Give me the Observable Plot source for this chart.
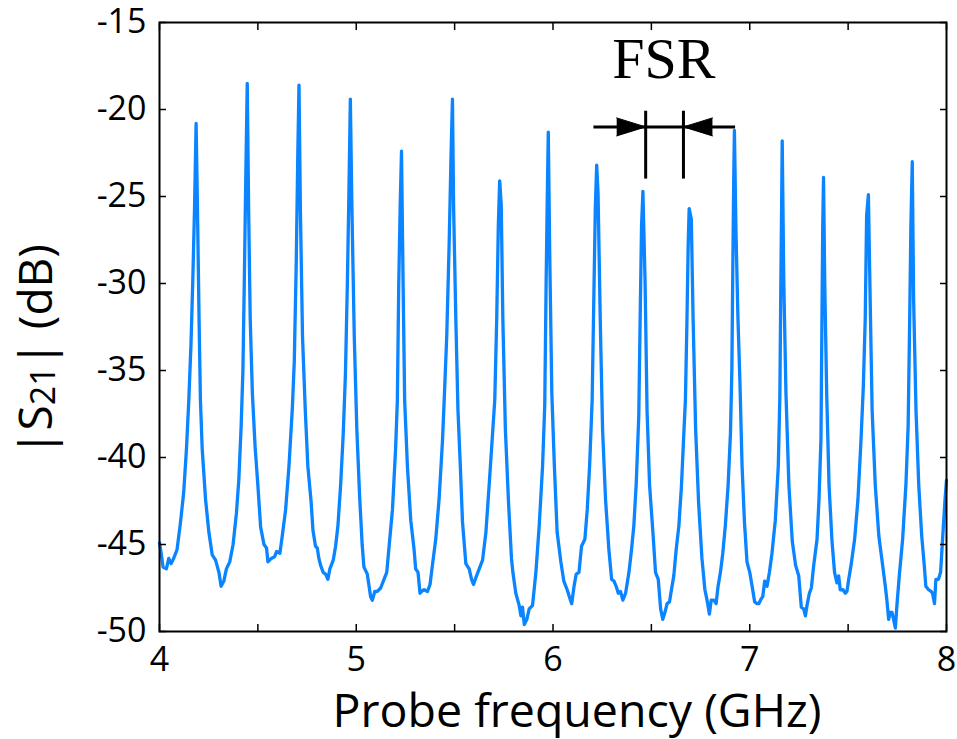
<!DOCTYPE html>
<html>
<head>
<meta charset="utf-8">
<script src="https://cdn.jsdelivr.net/npm/d3@7"></script>
<script src="https://cdn.jsdelivr.net/npm/@observablehq/plot@0.6"></script>
<style>
  html, body { margin: 0; padding: 0; background: #fff; }
  #chart { width: 957px; height: 739px; }
</style>
</head>
<body>
<div id="chart"></div>
<script>
const trace = [
  [4.000,-44.9],[4.010,-45.6],[4.018,-46.3],[4.035,-46.4],[4.047,-45.8],[4.059,-46.1],[4.072,-45.8],
  [4.089,-45.3],[4.106,-43.8],[4.123,-42.0],[4.137,-39.5],[4.149,-36.7],[4.160,-33.5],[4.169,-29.9],
  [4.178,-25.7],[4.186,-20.8],[4.193,-25.7],[4.201,-32.0],[4.208,-36.7],[4.217,-39.5],[4.234,-42.4],
  [4.251,-44.3],[4.268,-45.6],[4.285,-45.9],[4.302,-46.6],[4.313,-47.4],[4.327,-47.1],[4.340,-46.4],
  [4.357,-46.0],[4.374,-45.0],[4.391,-43.2],[4.403,-41.3],[4.415,-38.2],[4.424,-35.0],[4.431,-29.9],
  [4.439,-23.5],[4.446,-18.5],[4.453,-25.7],[4.461,-32.0],[4.472,-36.3],[4.486,-39.4],[4.500,-41.6],
  [4.514,-44.0],[4.531,-45.0],[4.544,-45.2],[4.551,-46.0],[4.568,-45.8],[4.585,-45.7],[4.595,-45.4],
  [4.612,-45.5],[4.624,-44.5],[4.641,-43.0],[4.658,-40.5],[4.675,-37.2],[4.685,-34.5],[4.695,-28.8],
  [4.703,-22.5],[4.709,-18.6],[4.716,-25.7],[4.727,-33.1],[4.741,-37.3],[4.754,-40.5],[4.771,-42.6],
  [4.780,-44.2],[4.793,-45.1],[4.802,-45.2],[4.810,-45.8],[4.819,-46.2],[4.832,-46.6],[4.844,-46.7],
  [4.856,-47.0],[4.866,-46.4],[4.883,-45.9],[4.895,-45.1],[4.907,-43.9],[4.921,-41.5],[4.934,-38.6],
  [4.945,-35.2],[4.955,-29.9],[4.963,-24.6],[4.970,-19.4],[4.978,-25.7],[4.990,-33.1],[5.003,-38.4],
  [5.017,-42.2],[5.030,-45.0],[5.039,-46.3],[5.056,-46.7],[5.073,-48.0],[5.082,-48.2],[5.094,-47.7],
  [5.107,-47.7],[5.124,-47.5],[5.141,-47.0],[5.155,-46.6],[5.167,-45.1],[5.184,-43.0],[5.200,-39.5],
  [5.209,-36.7],[5.216,-30.0],[5.223,-25.7],[5.230,-22.4],[5.238,-29.9],[5.246,-36.7],[5.260,-40.5],
  [5.277,-43.6],[5.294,-45.3],[5.302,-46.4],[5.314,-46.6],[5.324,-47.8],[5.331,-47.7],[5.345,-47.6],
  [5.362,-47.7],[5.375,-47.3],[5.387,-46.2],[5.404,-44.7],[5.421,-42.4],[5.438,-39.1],[5.447,-36.7],
  [5.460,-33.0],[5.472,-27.8],[5.482,-22.5],[5.489,-19.4],[5.495,-25.7],[5.506,-32.0],[5.517,-37.3],
  [5.529,-40.5],[5.540,-43.7],[5.557,-46.1],[5.574,-46.4],[5.586,-47.0],[5.596,-47.3],[5.608,-46.9],
  [5.625,-46.4],[5.642,-45.9],[5.659,-44.3],[5.676,-41.5],[5.693,-38.6],[5.704,-36.7],[5.714,-32.0],
  [5.722,-26.7],[5.729,-24.1],[5.737,-25.5],[5.745,-32.0],[5.758,-38.4],[5.774,-42.6],[5.789,-45.8],
  [5.796,-46.6],[5.811,-47.8],[5.828,-48.5],[5.837,-49.1],[5.845,-48.6],[5.854,-49.6],[5.867,-49.3],
  [5.879,-48.7],[5.896,-48.5],[5.913,-46.6],[5.930,-43.9],[5.947,-40.5],[5.958,-37.0],[5.965,-30.0],
  [5.971,-25.0],[5.976,-21.3],[5.984,-28.8],[5.994,-36.3],[6.007,-40.5],[6.021,-44.3],[6.040,-46.0],
  [6.055,-47.1],[6.072,-47.6],[6.086,-48.1],[6.095,-48.4],[6.107,-47.4],[6.118,-46.7],[6.132,-46.6],
  [6.145,-45.1],[6.162,-44.7],[6.174,-43.0],[6.186,-40.5],[6.199,-36.7],[6.208,-30.5],[6.215,-25.7],
  [6.222,-23.2],[6.229,-24.8],[6.240,-32.0],[6.252,-38.4],[6.267,-42.4],[6.284,-45.3],[6.298,-47.0],
  [6.310,-47.1],[6.321,-47.4],[6.332,-47.8],[6.343,-47.7],[6.355,-48.2],[6.369,-47.8],[6.386,-46.6],
  [6.399,-45.3],[6.411,-43.9],[6.423,-41.5],[6.436,-37.6],[6.443,-32.0],[6.450,-26.7],[6.457,-24.7],
  [6.468,-29.9],[6.478,-37.3],[6.491,-41.6],[6.509,-44.5],[6.521,-46.6],[6.535,-47.0],[6.547,-48.7],
  [6.558,-49.3],[6.569,-48.9],[6.580,-48.4],[6.592,-48.3],[6.602,-47.6],[6.614,-46.8],[6.626,-45.3],
  [6.640,-43.9],[6.653,-41.6],[6.665,-38.6],[6.673,-36.7],[6.681,-32.0],[6.687,-27.8],[6.692,-25.7],
  [6.703,-26.3],[6.712,-32.0],[6.725,-38.4],[6.740,-42.6],[6.757,-45.8],[6.772,-47.6],[6.783,-48.2],
  [6.795,-49.0],[6.804,-48.2],[6.817,-48.2],[6.829,-48.4],[6.839,-47.4],[6.851,-46.6],[6.863,-45.5],
  [6.876,-43.9],[6.890,-41.6],[6.902,-38.6],[6.909,-35.0],[6.914,-29.0],[6.918,-24.5],[6.922,-21.2],
  [6.930,-27.0],[6.940,-32.0],[6.950,-35.6],[6.961,-40.5],[6.973,-43.7],[6.986,-46.0],[7.000,-46.6],
  [7.012,-47.4],[7.025,-48.3],[7.037,-48.4],[7.046,-48.4],[7.059,-48.1],[7.066,-48.0],[7.076,-47.1],
  [7.088,-47.4],[7.100,-46.6],[7.113,-45.5],[7.130,-43.6],[7.145,-40.5],[7.153,-36.5],[7.158,-30.0],
  [7.162,-25.5],[7.165,-21.8],[7.173,-29.9],[7.184,-36.3],[7.199,-41.6],[7.216,-44.8],[7.233,-46.2],
  [7.249,-46.8],[7.262,-48.6],[7.274,-48.7],[7.283,-49.1],[7.291,-48.5],[7.303,-47.8],[7.313,-47.5],
  [7.325,-46.2],[7.342,-44.7],[7.352,-42.4],[7.362,-38.9],[7.367,-32.0],[7.371,-26.7],[7.375,-23.9],
  [7.381,-29.9],[7.391,-36.3],[7.403,-41.6],[7.418,-44.8],[7.431,-46.6],[7.443,-47.2],[7.452,-46.8],
  [7.460,-47.6],[7.474,-47.6],[7.486,-47.8],[7.494,-47.7],[7.503,-47.0],[7.516,-46.1],[7.533,-44.7],
  [7.550,-42.4],[7.565,-39.1],[7.577,-36.0],[7.587,-32.0],[7.594,-26.1],[7.603,-24.9],[7.612,-30.9],
  [7.622,-37.3],[7.638,-41.6],[7.656,-44.5],[7.672,-45.9],[7.689,-47.4],[7.697,-48.2],[7.706,-49.3],
  [7.714,-48.9],[7.723,-48.9],[7.731,-49.3],[7.740,-49.8],[7.748,-48.5],[7.760,-46.8],[7.777,-44.7],
  [7.794,-41.5],[7.805,-38.2],[7.813,-32.0],[7.819,-26.7],[7.826,-23.0],[7.833,-31.0],[7.845,-37.3],
  [7.859,-41.6],[7.874,-44.5],[7.887,-46.2],[7.895,-47.4],[7.909,-47.6],[7.922,-47.7],[7.929,-47.8],
  [7.939,-48.4],[7.946,-47.0],[7.959,-47.0],[7.970,-46.6],[7.980,-44.7],[7.992,-42.5],[8.000,-41.3]
];

const xTickValues  = [4, 4.5, 5, 5.5, 6, 6.5, 7, 7.5, 8];
const xLabelValues = [4, 5, 6, 7, 8];
const yTickValues  = [-50, -45, -40, -35, -30, -25, -20, -15];
const xTitle = "Probe frequency (GHz)";

// FSR annotation (GHz / dB)
const fsrLabel    = ["FSR"];
const fsrLabelPos = [6.563, -17.1];
const fsrLevel    = [-21.0];
const fsrSpan     = [6.208, 6.928];
const fsrMarks    = [6.471, 6.663];
const fsrMarkSpan = [-20.1, -24.0];
const fsrHeads    = [{x: 6.471, rotate: 90}, {x: 6.663, rotate: -90}];

const data = trace.map(([f, db]) => ({f, db}));
const blue = "#0a84ff";

const chart = Plot.plot({
  width: 957,
  height: 739,
  marginLeft: 159,
  marginRight: 11,
  marginTop: 22,
  marginBottom: 108,
  style: {fontFamily: "'Open Sans', sans-serif", fontSize: "34px", color: "black", background: "white", overflow: "visible"},
  x: {domain: [4, 8]},
  y: {domain: [-50, -15]},
  marks: [
    Plot.line(data, {x: "f", y: "db", stroke: blue, strokeWidth: 3.3, strokeLinejoin: "round"}),
    Plot.frame({stroke: "black", strokeWidth: 2}),
    Plot.axisX({anchor: "bottom", ticks: xTickValues, tickSize: -7, tickFormat: () => "", label: null, strokeWidth: 1.5}),
    Plot.axisX({anchor: "top", ticks: xTickValues, tickSize: -7, tickFormat: () => "", label: null, strokeWidth: 1.5}),
    Plot.axisY({anchor: "left", ticks: yTickValues, tickSize: -7, tickFormat: () => "", label: null, strokeWidth: 1.5}),
    Plot.axisY({anchor: "right", ticks: yTickValues, tickSize: -7, tickFormat: () => "", label: null, strokeWidth: 1.5}),
    Plot.axisX({anchor: "bottom", ticks: xLabelValues, tickSize: 0, tickPadding: 15, tickFormat: d => String(d), label: null, fontSize: 34}),
    Plot.axisY({anchor: "left", ticks: yTickValues, tickSize: 0, tickPadding: 13, tickFormat: d => String(d), label: null, fontSize: 34}),
    Plot.text([xTitle], {frameAnchor: "bottom", text: d => d, dx: 24, dy: 95, fontSize: 46.5, lineAnchor: "bottom", fill: "black"}),
    // FSR annotation
    Plot.ruleY(fsrLevel, {y: d => d, x1: fsrSpan[0], x2: fsrSpan[1], stroke: "black", strokeWidth: 3}),
    Plot.ruleX(fsrMarks, {x: d => d, y1: fsrMarkSpan[0], y2: fsrMarkSpan[1], stroke: "black", strokeWidth: 3}),
    Plot.vector(fsrHeads, {x: "x", y: fsrLevel[0], rotate: "rotate", length: 29, r: 9, shape: "spike", anchor: "end", fill: "black", stroke: "black", strokeWidth: 1}),
    Plot.text(fsrLabel, {x: fsrLabelPos[0], y: fsrLabelPos[1], text: d => d, fontFamily: "'Liberation Serif', serif", fontSize: 58, lineAnchor: "middle", fill: "black"})
  ]
});

// y-axis title with subscript
const svg = d3.select(chart);
const yl = svg.append("text")
  .attr("transform", "translate(52,350) rotate(-90)")
  .attr("text-anchor", "middle")
  .attr("font-family", "'Open Sans', sans-serif")
  .attr("font-size", 46)
  .attr("fill", "black");
yl.append("tspan").text("|S");
yl.append("tspan").attr("font-size", 34).attr("dy", 3).text("21");
yl.append("tspan").attr("dy", -3).text("| (dB)");

document.getElementById("chart").appendChild(chart);
</script>
</body>
</html>
